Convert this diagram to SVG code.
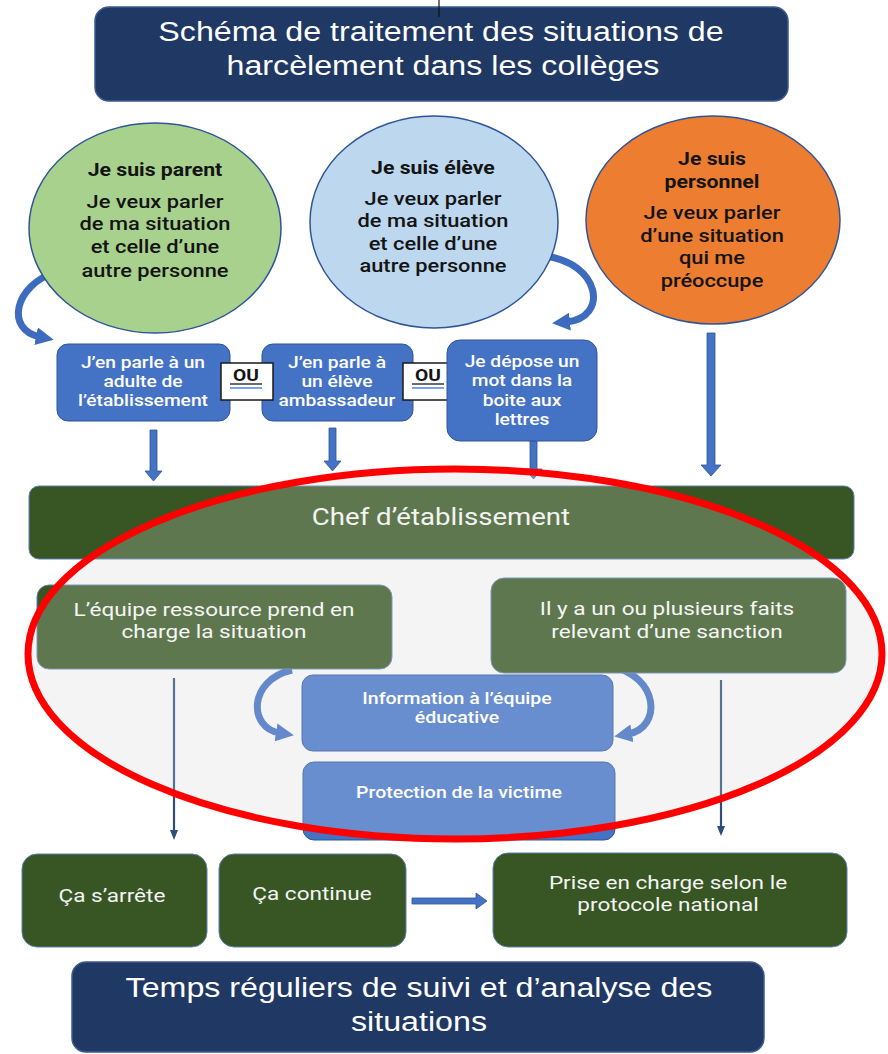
<svg xmlns="http://www.w3.org/2000/svg" width="888" height="1054" viewBox="0 0 888 1054">
<style>
  text { text-anchor: middle; transform-box: fill-box; transform-origin: center; }
  .arial { font-family: "Liberation Sans", Arial, sans-serif; font-size: 28px; fill: #ffffff; transform: scaleX(1.15); }
  .rb { font-family: Roboto, "Liberation Sans", sans-serif; transform: scaleX(1.2); }
  .head { font-size: 18px; font-weight: 700; fill: #141414; transform: scaleX(1.18); }
  .body { font-size: 18.5px; font-weight: 500; fill: #141414; transform: scaleX(1.18); }
  .small { font-size: 16px; font-weight: 500; fill: #ffffff; }
  .ou { font-size: 16px; font-weight: 700; fill: #141414; }
  .chef { font-size: 23px; font-weight: 400; fill: #f0f0f0; }
  .mid { font-size: 18.5px; font-weight: 400; fill: #f4f4f4; transform: scaleX(1.22); }
  .info { font-size: 16px; font-weight: 500; fill: #ffffff; transform: scaleX(1.22); }
  .navy { fill: #203864; stroke: #3b5b8f; stroke-width: 1.5; }
  .blue { fill: #4472c4; stroke: #2f5597; stroke-width: 1; }
  .green { fill: #375623; stroke: #5d7fae; stroke-width: 1; }
  .blk { fill: #4472c4; stroke: #2f5597; stroke-width: 0.8; }
  .curve { fill: none; stroke: #3d6cbf; stroke-width: 7; }
  .thin { fill: none; stroke: #2e4d7a; stroke-width: 2.2; }
</style>
<defs>
  <marker id="cv" markerUnits="userSpaceOnUse" markerWidth="18" markerHeight="18" viewBox="0 0 18 18" refX="4" refY="9" orient="auto">
    <path d="M0,0 L18,9 L0,18 z" fill="#3d6cbf"/>
  </marker>
  <marker id="th" markerUnits="userSpaceOnUse" markerWidth="10" markerHeight="10" viewBox="0 0 10 10" refX="6" refY="5" orient="auto">
    <path d="M0,1 L10,5 L0,9 z" fill="#2e4d7a"/>
  </marker>
</defs>

<rect width="888" height="1054" fill="#ffffff"/>
<ellipse id="zone-bg" cx="455" cy="654" rx="427" ry="185" fill="#f2f2f2"/>

<g id="connectors">
  <path class="curve" d="M56,272 C14,285 5,330 40,337" marker-end="url(#cv)"/>
  <path class="curve" d="M544,256 C600,262 610,318 566,322" marker-end="url(#cv)"/>
  <path class="blk" d="M150,430 H157 V471 H162 L153.5,481 L145,471 H150 Z"/>
  <path class="blk" d="M329,428 H336 V461 H341 L332.5,471 L324,461 H329 Z"/>
  <path class="blk" d="M530,441 H537 V469 H542 L533.5,479 L525,469 H530 Z"/>
  <path class="blk" d="M707,333 H715 V465 H721 L711,476 L701,465 H707 Z"/>
  <path class="curve" d="M292,670 C248,680 248,728 280,733" marker-end="url(#cv)"/>
  <path class="curve" d="M610,666 C660,676 662,728 628,734" marker-end="url(#cv)"/>
  <path class="thin" d="M174,678 V836" marker-end="url(#th)"/>
  <path class="thin" d="M721,680 V832" marker-end="url(#th)"/>
  <path class="blk" d="M412,898 V904 H476 V909 L487,901 L476,893 V898 Z"/>
</g>

<g id="title">
  <rect class="navy" x="95" y="7" width="693" height="94" rx="14"/>
  <text class="arial" x="441" y="41">Schéma de traitement des situations de</text>
  <text class="arial" x="443" y="75">harcèlement dans les collèges</text>
</g>

<g id="parent">
  <ellipse cx="155" cy="228" rx="126" ry="105" fill="#a9d18e" stroke="#2f5597" stroke-width="1.5"/>
  <text class="rb head" x="155" y="176">Je suis parent</text>
  <text class="rb body" x="155" y="208">Je veux parler</text>
  <text class="rb body" x="155" y="230">de ma situation</text>
  <text class="rb body" x="155" y="253">et celle d’une</text>
  <text class="rb body" x="155" y="277">autre personne</text>
</g>

<g id="eleve">
  <ellipse cx="434" cy="222" rx="124" ry="106" fill="#bdd7ee" stroke="#2f5597" stroke-width="1.5"/>
  <text class="rb head" x="433" y="174">Je suis élève</text>
  <text class="rb body" x="433" y="205">Je veux parler</text>
  <text class="rb body" x="433" y="227">de ma situation</text>
  <text class="rb body" x="433" y="250">et celle d’une</text>
  <text class="rb body" x="433" y="272">autre personne</text>
</g>

<g id="personnel">
  <ellipse cx="713" cy="220" rx="127" ry="104" fill="#ed7d31" stroke="#2f5597" stroke-width="1.5"/>
  <text class="rb head" x="712" y="165">Je suis</text>
  <text class="rb head" x="712" y="188">personnel</text>
  <text class="rb body" x="712" y="219">Je veux parler</text>
  <text class="rb body" x="712" y="242">d’une situation</text>
  <text class="rb body" x="712" y="264">qui me</text>
  <text class="rb body" x="712" y="287">préoccupe</text>
</g>

<g id="adulte">
  <rect class="blue" x="57" y="344" width="173" height="77" rx="11"/>
  <text class="rb small" x="143" y="368">J’en parle à un</text>
  <text class="rb small" x="143" y="387">adulte de</text>
  <text class="rb small" x="143" y="406">l’établissement</text>
</g>

<g id="ambassadeur">
  <rect class="blue" x="262" y="344" width="151" height="77" rx="11"/>
  <text class="rb small" x="337" y="368">J’en parle à</text>
  <text class="rb small" x="337" y="387">un élève</text>
  <text class="rb small" x="337" y="406">ambassadeur</text>
</g>

<g id="ou1">
  <rect x="221" y="363" width="52" height="37" fill="#ffffff" stroke="#1a1a1a" stroke-width="1.5"/>
  <text class="rb ou" x="246" y="381">OU</text>
  <line x1="230" y1="384" x2="262" y2="384" stroke="#1a1a1a" stroke-width="1.3"/>
  <line x1="230" y1="388" x2="262" y2="388" stroke="#4a86e8" stroke-width="1.5"/>
</g>

<g id="ou2">
  <rect x="403" y="363" width="52" height="37" fill="#ffffff" stroke="#1a1a1a" stroke-width="1.5"/>
  <text class="rb ou" x="428" y="381">OU</text>
  <line x1="412" y1="384" x2="444" y2="384" stroke="#1a1a1a" stroke-width="1.3"/>
  <line x1="412" y1="388" x2="444" y2="388" stroke="#4a86e8" stroke-width="1.5"/>
</g>

<g id="boite">
  <rect class="blue" x="447" y="340" width="150" height="101" rx="13"/>
  <text class="rb small" x="522" y="367">Je dépose un</text>
  <text class="rb small" x="522" y="386">mot dans la</text>
  <text class="rb small" x="522" y="406">boite aux</text>
  <text class="rb small" x="522" y="425">lettres</text>
</g>

<g id="chef">
  <rect class="green" x="29" y="486" width="825" height="73" rx="10"/>
  <text class="rb chef" x="441" y="525">Chef d’établissement</text>
</g>

<g id="equipe">
  <rect class="green" x="37" y="585" width="355" height="84" rx="12"/>
  <text class="rb mid" x="214" y="616">L’équipe ressource prend en</text>
  <text class="rb mid" x="214" y="638">charge la situation</text>
</g>

<g id="sanction">
  <rect class="green" x="491" y="578" width="355" height="95" rx="13"/>
  <text class="rb mid" x="667" y="615">Il y a un ou plusieurs faits</text>
  <text class="rb mid" x="667" y="638">relevant d’une sanction</text>
</g>

<g id="information">
  <rect class="blue" x="302" y="675" width="311" height="76" rx="11"/>
  <text class="rb info" x="457" y="704">Information à l’équipe</text>
  <text class="rb info" x="457" y="723">éducative</text>
</g>

<g id="protection">
  <rect class="blue" x="303" y="762" width="312" height="78" rx="11"/>
  <text class="rb info" x="459" y="798">Protection de la victime</text>
</g>

<g id="zone-overlay">
  <ellipse cx="455" cy="654" rx="427" ry="185" fill="#ffffff" fill-opacity="0.2" stroke="#ff0000" stroke-width="7"/>
</g>

<g id="arrete">
  <rect class="green" x="22" y="854" width="185" height="93" rx="15"/>
  <text class="rb mid" x="112" y="902">Ça s’arrête</text>
</g>

<g id="continue">
  <rect class="green" x="219" y="854" width="187" height="93" rx="15"/>
  <text class="rb mid" x="312" y="900">Ça continue</text>
</g>

<g id="protocole">
  <rect class="green" x="493" y="853" width="354" height="94" rx="15"/>
  <text class="rb mid" x="668" y="889">Prise en charge selon le</text>
  <text class="rb mid" x="668" y="911">protocole national</text>
</g>

<g id="suivi">
  <rect class="navy" x="72" y="962" width="692" height="90" rx="14"/>
  <text class="arial" x="419" y="997">Temps réguliers de suivi et d’analyse des</text>
  <text class="arial" x="419" y="1031">situations</text>
</g>

<line id="top-line" x1="439" y1="0" x2="439" y2="17" stroke="#111111" stroke-width="1.2"/>
</svg>
